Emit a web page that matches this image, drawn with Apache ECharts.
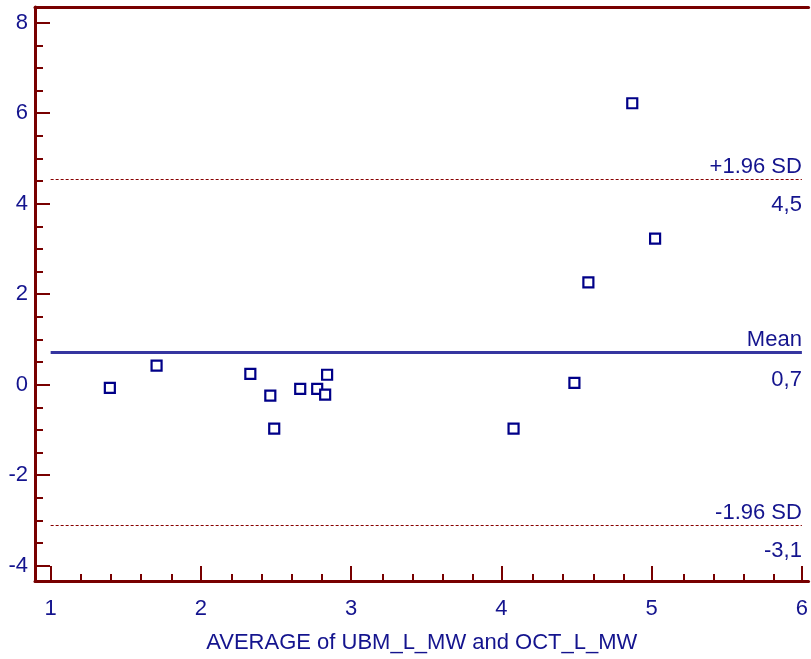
<!DOCTYPE html>
<html><head><meta charset="utf-8">
<script src="https://cdn.jsdelivr.net/npm/echarts@6/dist/echarts.min.js"></script>
<style>html,body{margin:0;padding:0;background:#fff}#c{width:811px;height:659px}</style>
</head><body><div id="c"></div>
<script>
// ---- data ----
const averages    = [1.394, 1.705, 2.329, 2.462, 2.488, 2.661, 2.774, 2.827, 2.840, 4.081, 4.486, 4.579, 4.871, 5.023];
const differences = [-0.07, 0.42, 0.24, -0.24, -0.97, -0.09, -0.09, -0.22, 0.22, -0.97, 0.04, 2.26, 6.22, 3.23];
const meanDiff = 0.72;
const upperLimit = 4.54;
const lowerLimit = -3.10;
const meanText = 'Mean', meanValueText = '0,7';
const upperText = '+1.96 SD', upperValueText = '4,5';
const lowerText = '-1.96 SD', lowerValueText = '-3,1';
const xTicks = [1, 2, 3, 4, 5, 6];
const xMinorTicks = [1.2,1.4,1.6,1.8,2.2,2.4,2.6,2.8,3.2,3.4,3.6,3.8,4.2,4.4,4.6,4.8,5.2,5.4,5.6,5.8];
const yTicks = [-4, -2, 0, 2, 4, 6, 8];
const yMinorTicks = [-3.5,-3,-2.5,-1.5,-1,-0.5,0.5,1,1.5,2.5,3,3.5,4.5,5,5.5,6.5,7,7.5];
const xTitle = 'AVERAGE of UBM_L_MW and OCT_L_MW';

// ---- styling ----
const AXIS = '#780000';
const TXT = '#14148e';
const FONT = "'Liberation Sans', Arial, sans-serif";
const X_MIN = 0.8958, X_MAX = 6.0444, Y_MIN = -4.338, Y_MAX = 8.347;
const gridPos = {left: 35, right: 0, top: 7, bottom: 78};

const chart = echarts.init(document.getElementById('c'));
const lineEnds = (y, extra) => [Object.assign({coord: [xTicks[0], y]}, extra), {coord: [xTicks[xTicks.length - 1], y]}];
const lbl = (text, pos, dist) => ({show: true, position: pos, formatter: text, color: TXT, fontSize: 22, fontFamily: FONT, distance: dist, opacity: 1});
const hidden = {color: 'rgba(0,0,0,0)', width: 1, type: 'solid'};

chart.setOption({
  animation: false,
  grid: [Object.assign({}, gridPos), Object.assign({}, gridPos)],
  xAxis: [
    { type: 'value', gridIndex: 0, min: X_MIN, max: X_MAX, position: 'bottom',
      axisLine: {show: true, onZero: false, lineStyle: {color: AXIS, width: 3}},
      axisTick: {show: true, inside: true, length: 15, customValues: xTicks, lineStyle: {color: AXIS, width: 2}},
      axisLabel: {show: true, customValues: xTicks, color: TXT, fontSize: 22, fontFamily: FONT, margin: 17},
      splitLine: {show: false},
      name: xTitle, nameLocation: 'middle', nameGap: 51,
      nameTextStyle: {color: TXT, fontSize: 22, fontFamily: FONT} },
    { type: 'value', gridIndex: 0, min: X_MIN, max: X_MAX, position: 'top',
      axisLine: {show: true, onZero: false, lineStyle: {color: AXIS, width: 3}},
      axisTick: {show: false}, axisLabel: {show: false}, splitLine: {show: false} },
    { type: 'value', gridIndex: 1, min: X_MIN, max: X_MAX, position: 'bottom',
      axisLine: {show: false, onZero: false},
      axisTick: {show: true, inside: true, length: 7, customValues: xMinorTicks, lineStyle: {color: AXIS, width: 2}},
      axisLabel: {show: false}, splitLine: {show: false} }
  ],
  yAxis: [
    { type: 'value', gridIndex: 0, min: Y_MIN, max: Y_MAX, position: 'left',
      axisLine: {show: true, onZero: false, lineStyle: {color: AXIS, width: 3}},
      axisTick: {show: true, inside: true, length: 15, customValues: yTicks, lineStyle: {color: AXIS, width: 2}},
      axisLabel: {show: true, customValues: yTicks, color: TXT, fontSize: 22, fontFamily: FONT, margin: 7},
      splitLine: {show: false} },
    { type: 'value', gridIndex: 1, min: Y_MIN, max: Y_MAX, position: 'left',
      axisLine: {show: false, onZero: false},
      axisTick: {show: true, inside: true, length: 8, customValues: yMinorTicks, lineStyle: {color: AXIS, width: 2}},
      axisLabel: {show: false}, splitLine: {show: false} }
  ],
  series: [{
    type: 'scatter', xAxisIndex: 0, yAxisIndex: 0,
    data: averages.map((x, i) => [x, differences[i]]),
    symbol: 'rect', symbolSize: 10,
    itemStyle: {color: '#ffffff', borderColor: '#000088', borderWidth: 2.2, opacity: 1},
    z: 5,
    markLine: {
      silent: true, symbol: 'none', animation: false,
      data: [
        lineEnds(meanDiff, {lineStyle: {color: '#3535a0', width: 3, type: 'solid'}, label: lbl(meanText, 'insideEndTop', [0, 1])}),
        lineEnds(meanDiff, {lineStyle: hidden, label: lbl(meanValueText, 'insideEndBottom', [0, 17])}),
        lineEnds(upperLimit, {lineStyle: {color: '#880000', width: 1, type: [3, 2]}, label: lbl(upperText, 'insideEndTop', [0, 1])}),
        lineEnds(upperLimit, {lineStyle: hidden, label: lbl(upperValueText, 'insideEndBottom', [0, 15])}),
        lineEnds(lowerLimit, {lineStyle: {color: '#880000', width: 1, type: [3, 2]}, label: lbl(lowerText, 'insideEndTop', [0, 1])}),
        lineEnds(lowerLimit, {lineStyle: hidden, label: lbl(lowerValueText, 'insideEndBottom', [0, 15])})
      ]
    }
  }]
});
</script></body></html>
